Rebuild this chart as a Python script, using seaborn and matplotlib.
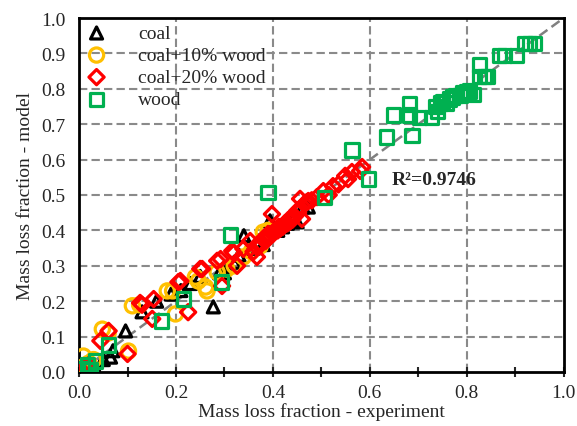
import numpy as np
import pandas as pd
import matplotlib
matplotlib.use("Agg")
import matplotlib.pyplot as plt
import seaborn as sns
from matplotlib.ticker import MultipleLocator

# Mass loss fraction: experiment (x) vs model (y) for each fuel blend
coal_x = [0.01, 0.02, 0.03, 0.05, 0.065, 0.07, 0.096, 0.13, 0.16, 0.19, 0.21, 0.23, 0.25,
          0.277, 0.29, 0.30, 0.31, 0.32, 0.33, 0.34, 0.35, 0.36, 0.37, 0.38, 0.394, 0.41,
          0.42, 0.43, 0.44, 0.45, 0.462, 0.473]
coal_y = [0.01, 0.015, 0.02, 0.035, 0.042, 0.06, 0.116, 0.17, 0.2, 0.22, 0.23, 0.25, 0.27,
          0.184, 0.28, 0.28, 0.3, 0.31, 0.33, 0.385, 0.35, 0.35, 0.37, 0.36, 0.427, 0.4,
          0.41, 0.42, 0.43, 0.424, 0.466, 0.466]

c10_x = [0.005, 0.01, 0.02, 0.03, 0.009, 0.048, 0.06, 0.102, 0.11, 0.125, 0.182, 0.193,
         0.199, 0.24, 0.246, 0.261, 0.264, 0.285, 0.305, 0.32, 0.339, 0.355, 0.374, 0.38, 0.39]
c10_y = [0.005, 0.015, 0.025, 0.035, 0.045, 0.121, 0.11, 0.059, 0.187, 0.19, 0.229, 0.229,
         0.164, 0.268, 0.257, 0.24, 0.229, 0.282, 0.291, 0.3, 0.325, 0.34, 0.356, 0.395, 0.4]

c20_x = [0.005, 0.013, 0.02, 0.044, 0.061, 0.1, 0.126, 0.13, 0.151, 0.154, 0.205, 0.209,
         0.225, 0.25, 0.254, 0.285, 0.292, 0.295, 0.316, 0.319, 0.326, 0.339, 0.353, 0.36,
         0.365, 0.367, 0.37, 0.372, 0.375, 0.38, 0.383, 0.385, 0.39, 0.392, 0.395, 0.398,
         0.40, 0.403, 0.405, 0.41, 0.412, 0.415, 0.42, 0.423, 0.425, 0.43, 0.432, 0.435,
         0.436, 0.44, 0.443, 0.445, 0.45, 0.452, 0.455, 0.456, 0.46, 0.465, 0.47, 0.473,
         0.48, 0.491, 0.504, 0.515, 0.524, 0.535, 0.549, 0.555, 0.563, 0.58, 0.584]
c20_y = [0.005, 0.014, 0.02, 0.088, 0.116, 0.051, 0.195, 0.19, 0.15, 0.206, 0.254, 0.257,
         0.169, 0.291, 0.291, 0.314, 0.319, 0.243, 0.342, 0.336, 0.3, 0.348, 0.37, 0.34,
         0.355, 0.325, 0.36, 0.365, 0.36, 0.375, 0.38, 0.37, 0.39, 0.38, 0.385, 0.446,
         0.39, 0.395, 0.4, 0.4, 0.41, 0.405, 0.41, 0.415, 0.42, 0.42, 0.43, 0.425,
         0.432, 0.43, 0.44, 0.44, 0.455, 0.45, 0.46, 0.489, 0.432, 0.475, 0.48, 0.483,
         0.485, 0.494, 0.511, 0.5, 0.525, 0.53, 0.554, 0.545, 0.565, 0.568, 0.579]

wood_x = [0.007, 0.018, 0.024, 0.034, 0.061, 0.17, 0.215, 0.294, 0.312, 0.39, 0.506, 0.563,
          0.598, 0.635, 0.648, 0.681, 0.681, 0.687, 0.703, 0.728, 0.736, 0.74, 0.745, 0.75,
          0.757, 0.765, 0.771, 0.777, 0.786, 0.792, 0.8, 0.806, 0.813, 0.827, 0.827, 0.837,
          0.843, 0.868, 0.878, 0.903, 0.92, 0.93, 0.94]
wood_y = [0.011, 0.02, 0.008, 0.031, 0.076, 0.144, 0.206, 0.254, 0.387, 0.508, 0.494, 0.627,
          0.545, 0.664, 0.726, 0.757, 0.726, 0.669, 0.72, 0.718, 0.749, 0.737, 0.76, 0.765,
          0.76, 0.771, 0.777, 0.78, 0.782, 0.788, 0.791, 0.794, 0.785, 0.867, 0.834, 0.834,
          0.834, 0.893, 0.893, 0.893, 0.927, 0.927, 0.927]

series = ["coal", "coal+10% wood", "coal+20% wood", "wood"]
colors = ["#000000", "#FFC000", "#FF0000", "#00B050"]
markers = ["^", "o", "D", "s"]
sizes = [75, 105, 60, 90]
r2_text = "R²=0.9746"

df = pd.concat([
    pd.DataFrame({"exp": coal_x, "model": coal_y, "series": series[0]}),
    pd.DataFrame({"exp": c10_x, "model": c10_y, "series": series[1]}),
    pd.DataFrame({"exp": c20_x, "model": c20_y, "series": series[2]}),
    pd.DataFrame({"exp": wood_x, "model": wood_y, "series": series[3]}),
], ignore_index=True)

sns.set_style("white")
plt.rcParams["font.family"] = ["Liberation Serif", "DejaVu Serif"]

fig = plt.figure(figsize=(5.77, 4.27), dpi=100)
ax = fig.add_axes([0.137, 0.1265, 0.84, 0.829])

grid_kw = dict(color="#8a8a8a", linewidth=1.5, linestyle=(0, (4, 2)))
for gx in [0.2, 0.4, 0.6, 0.8]:
    ax.axvline(gx, zorder=0, **grid_kw)
for gy in np.arange(0.1, 1.0, 0.1):
    ax.axhline(gy, zorder=0, **grid_kw)

# 1:1 trend line
ax.plot([0, 1], [0, 1], color="#808080", linewidth=1.8, linestyle=(0, (4, 2)), zorder=1)

for name, col, mk, sz in zip(series, colors, markers, sizes):
    sub = df[df["series"] == name]
    sns.scatterplot(data=sub, x="exp", y="model", marker=mk, s=sz, color=col,
                    label=name, ax=ax, zorder=3, legend=True)
    coll = ax.collections[-1]
    coll.set_facecolor("none")
    coll.set_edgecolor(col)
    coll.set_linewidth(2.3)

ax.set_xlim(0, 1)
ax.set_ylim(0, 1)
ax.xaxis.set_major_locator(MultipleLocator(0.2))
ax.xaxis.set_minor_locator(MultipleLocator(0.1))
ax.yaxis.set_major_locator(MultipleLocator(0.1))
ax.set_xticklabels([f"{v:.1f}" for v in ax.get_xticks()])
ax.set_yticklabels([f"{v:.1f}" for v in ax.get_yticks()])
ax.tick_params(axis="x", which="both", direction="inout", length=7, width=1.5, pad=5,
               labelsize=14, bottom=True)
ax.tick_params(axis="y", which="both", length=0, pad=10, labelsize=14, left=True)

for sp in ax.spines.values():
    sp.set_visible(True)
    sp.set_color("black")
    sp.set_linewidth(2.0)

ax.set_xlabel("Mass loss fraction - experiment", fontsize=14, labelpad=1)
ax.set_ylabel("Mass loss fraction - model", fontsize=14, labelpad=5)

ax.text(0.645, 0.545, r2_text, fontsize=14, fontweight="bold", ha="left", va="center",
        zorder=4)

leg = ax.legend(loc="upper left", bbox_to_anchor=(0.0, 0.99), frameon=False, fontsize=14,
                handletextpad=1.4, labelspacing=0.23, borderaxespad=0.15, borderpad=0.0,
                handlelength=1.5)
for h in leg.legend_handles:
    h.set_facecolor("none")

fig.savefig("out.png", dpi=100)
